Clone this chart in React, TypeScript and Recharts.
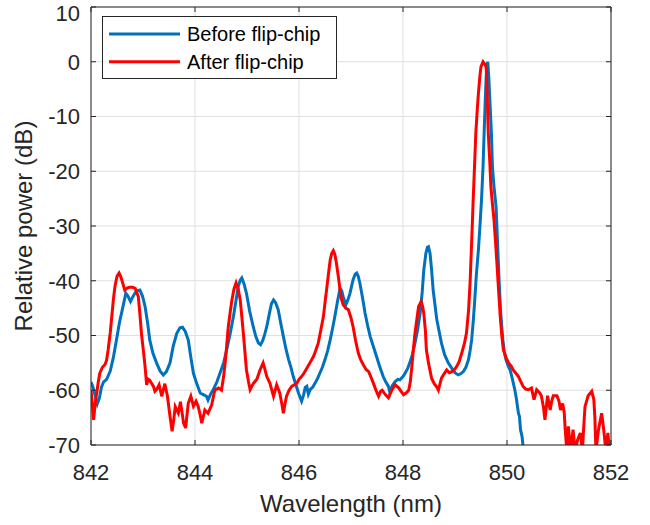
import React from 'react';
import { LineChart, Line, XAxis, YAxis, CartesianGrid } from 'recharts';

const FONT = '"Liberation Sans", Arial, Helvetica, sans-serif';

const seriesNames = ['Before flip-chip', 'After flip-chip'];
const seriesColors = ['#0072BD', '#FF0000'];
const xTicks = [842, 844, 846, 848, 850, 852];
const yTicks = [-70, -60, -50, -40, -30, -20, -10, 0, 10];
const xAxisTitle = 'Wavelength (nm)';
const yAxisTitle = 'Relative power (dB)';

const wavelengthBefore = [
  842.0, 842.04, 842.08, 842.12, 842.16, 842.2, 842.24, 842.3, 842.37, 842.43,
  842.49, 842.55, 842.62, 842.67, 842.71, 842.76, 842.8, 842.85, 842.9, 842.94,
  842.99, 843.04, 843.09, 843.13, 843.19, 843.26, 843.33, 843.39, 843.45, 843.52,
  843.58, 843.65, 843.71, 843.76, 843.81, 843.87, 843.92, 843.97, 844.03, 844.1,
  844.16, 844.22, 844.25, 844.3, 844.35, 844.42, 844.48, 844.55, 844.61, 844.68,
  844.74, 844.79, 844.83, 844.87, 844.9, 844.94, 844.99, 845.05, 845.12, 845.17,
  845.22, 845.26, 845.3, 845.34, 845.38, 845.43, 845.47, 845.51, 845.55, 845.6,
  845.65, 845.7, 845.75, 845.8, 845.85, 845.89, 845.94, 845.99, 846.05, 846.09,
  846.12, 846.15, 846.18, 846.22, 846.26, 846.31, 846.36, 846.4, 846.45, 846.5,
  846.55, 846.6, 846.65, 846.69, 846.74, 846.79, 846.82, 846.85, 846.9, 846.94,
  846.98, 847.04, 847.08, 847.11, 847.14, 847.17, 847.22, 847.27, 847.32, 847.37,
  847.43, 847.49, 847.55, 847.62, 847.67, 847.72, 847.75, 847.79, 847.85, 847.9,
  847.94, 848.0, 848.04, 848.09, 848.13, 848.18, 848.23, 848.28, 848.33, 848.37,
  848.4, 848.44, 848.47, 848.49, 848.52, 848.55, 848.58, 848.62, 848.65, 848.7,
  848.74, 848.8, 848.87, 848.94, 849.0, 849.06, 849.11, 849.16, 849.21, 849.26,
  849.29, 849.32, 849.35, 849.38, 849.41, 849.45, 849.48, 849.51, 849.54, 849.56,
  849.58, 849.6, 849.62, 849.63, 849.65, 849.67, 849.7, 849.72, 849.75, 849.79,
  849.82, 849.85, 849.88, 849.92, 849.95, 849.98, 850.02, 850.06, 850.1, 850.15,
  850.18, 850.22, 850.24, 850.26, 850.29, 850.31, 850.34,
];
const powerBefore = [
  -58.5, -59.5, -61.0, -62.5, -61.5, -59.5, -58.5, -58.0, -56.5, -54.0,
  -50.8, -47.5, -44.5, -42.3, -42.8, -43.8, -43.0, -42.2, -41.8, -41.7,
  -42.8, -44.7, -47.8, -50.8, -53.2, -55.0, -56.5, -57.2, -56.6, -55.0,
  -52.0, -49.6, -48.6, -48.5, -49.2, -50.8, -54.0, -56.9, -58.7, -60.5,
  -60.8, -61.1, -61.8, -60.7, -59.9, -58.5, -56.9, -55.0, -52.6, -49.5,
  -46.5, -43.5, -41.1, -39.9, -39.5, -40.5, -42.3, -45.5, -48.4, -50.2,
  -51.4, -51.7, -51.0, -49.8, -48.4, -46.0, -44.2, -43.5, -44.0, -45.3,
  -47.8, -50.2, -52.5, -54.4, -56.0, -57.5, -59.0, -60.5, -62.0, -60.8,
  -59.5, -59.3, -60.7, -59.8, -59.5, -58.7, -57.8, -56.9, -55.8, -54.4,
  -52.8, -50.8, -48.5, -46.5, -43.8, -41.4, -41.8, -42.9, -44.4, -43.5,
  -42.3, -39.8, -38.8, -38.6, -39.2, -40.4, -43.0, -45.9, -48.2, -50.2,
  -52.0, -53.8, -55.6, -57.5, -58.5, -59.3, -60.5, -59.2, -58.4, -58.0,
  -58.1, -57.5, -56.9, -56.0, -55.0, -53.5, -51.4, -49.0, -45.9, -42.0,
  -38.0, -35.0, -33.9, -33.8, -35.0, -38.0, -41.7, -44.8, -47.1, -49.5,
  -51.4, -53.5, -55.0, -56.0, -56.8, -57.2, -57.0, -56.6, -55.8, -54.4,
  -52.8, -50.8, -47.5, -43.5, -39.0, -34.4, -30.0, -25.2, -19.0, -13.1,
  -7.5, -2.7, -0.5, 0.0, -2.8, -7.0, -13.0, -19.2, -22.8, -26.5,
  -33.5, -40.4, -46.0, -50.8, -53.0, -54.4, -55.5, -56.3, -57.8, -59.9,
  -61.5, -64.2, -64.8, -67.2, -68.5, -70.3, -74.0,
];

const wavelengthAfter = [
  842.0, 842.03, 842.05, 842.08, 842.11, 842.14, 842.17, 842.22, 842.27, 842.3,
  842.33, 842.37, 842.4, 842.43, 842.46, 842.5, 842.54, 842.57, 842.6, 842.65,
  842.7, 842.74, 842.8, 842.85, 842.91, 842.94, 842.97, 843.01, 843.04, 843.07,
  843.1, 843.13, 843.17, 843.2, 843.23, 843.26, 843.31, 843.36, 843.42, 843.47,
  843.52, 843.56, 843.59, 843.62, 843.68, 843.72, 843.75, 843.78, 843.82, 843.87,
  843.92, 843.97, 844.02, 844.06, 844.1, 844.13, 844.19, 844.25, 844.32, 844.38,
  844.45, 844.51, 844.55, 844.58, 844.61, 844.64, 844.68, 844.71, 844.75, 844.79,
  844.83, 844.87, 844.9, 844.93, 844.96, 844.99, 845.03, 845.06, 845.12, 845.19,
  845.25, 845.31, 845.34, 845.38, 845.44, 845.51, 845.57, 845.63, 845.67, 845.7,
  845.73, 845.76, 845.81, 845.86, 845.91, 845.96, 846.0, 846.05, 846.1, 846.15,
  846.21, 846.28, 846.32, 846.37, 846.42, 846.47, 846.5, 846.53, 846.57, 846.6,
  846.63, 846.66, 846.69, 846.72, 846.76, 846.79, 846.82, 846.85, 846.9, 846.95,
  847.0, 847.04, 847.09, 847.14, 847.19, 847.24, 847.29, 847.34, 847.38, 847.43,
  847.48, 847.53, 847.57, 847.6, 847.66, 847.72, 847.76, 847.79, 847.85, 847.92,
  847.97, 848.01, 848.06, 848.11, 848.14, 848.17, 848.2, 848.23, 848.27, 848.3,
  848.35, 848.38, 848.4, 848.43, 848.45, 848.49, 848.55, 848.6, 848.65, 848.68,
  848.74, 848.79, 848.84, 848.89, 848.94, 848.99, 849.03, 849.08, 849.13, 849.18,
  849.22, 849.26, 849.29, 849.32, 849.35, 849.38, 849.4, 849.43, 849.45, 849.48,
  849.5, 849.54, 849.57, 849.6, 849.62, 849.64, 849.67, 849.69, 849.72, 849.75,
  849.78, 849.81, 849.84, 849.87, 849.9, 849.93, 849.98, 850.03, 850.08, 850.12,
  850.17, 850.22, 850.27, 850.31, 850.36, 850.41, 850.47, 850.52, 850.57, 850.63,
  850.66, 850.7, 850.73, 850.78, 850.83, 850.86, 850.89, 850.96, 851.0, 851.03,
  851.07, 851.1, 851.12, 851.15, 851.18, 851.21, 851.23, 851.27, 851.31, 851.36,
  851.41, 851.45, 851.48, 851.5, 851.56, 851.63, 851.67, 851.69, 851.71, 851.76,
  851.82, 851.86, 851.9, 851.94, 851.97, 852.0,
];
const powerAfter = [
  -60.0, -63.0, -65.4, -62.5, -60.5, -58.5, -56.9, -55.8, -55.3, -54.5,
  -52.6, -49.5, -46.5, -43.5, -41.1, -39.2, -38.6, -39.2, -40.1, -41.7,
  -41.3, -41.2, -41.2, -41.4, -42.9, -46.0, -49.6, -53.0, -55.7, -59.0,
  -58.0, -58.2, -58.8, -59.3, -60.2, -59.9, -59.0, -61.1, -58.8, -61.1,
  -64.8, -67.5, -65.5, -63.0, -64.2, -62.1, -64.0, -66.0, -66.9, -62.4,
  -61.1, -62.9, -62.0, -62.9, -64.5, -66.0, -63.6, -64.2, -62.7, -60.0,
  -59.6, -60.0, -57.5, -55.0, -51.8, -48.4, -45.5, -43.5, -41.5, -40.4,
  -41.5, -43.5, -46.5, -49.6, -53.0, -56.3, -58.5, -59.9, -58.8, -58.0,
  -56.3, -55.0, -56.0, -57.5, -58.7, -61.1, -59.0, -60.5, -62.5, -64.2,
  -62.5, -61.1, -60.0, -59.3, -59.0, -58.7, -58.0, -57.5, -56.8, -56.0,
  -55.0, -53.8, -52.8, -51.4, -49.0, -46.5, -44.0, -41.7, -38.5, -36.2,
  -35.0, -34.5, -35.2, -36.8, -39.5, -41.7, -43.5, -44.4, -45.0, -45.3,
  -46.8, -48.4, -51.0, -53.2, -54.5, -55.4, -56.2, -56.6, -57.5, -58.7,
  -60.0, -61.1, -60.2, -60.0, -60.8, -61.4, -60.5, -59.9, -59.0, -59.6,
  -60.3, -60.8, -60.5, -60.0, -58.5, -55.7, -52.5, -49.6, -46.8, -44.7,
  -43.8, -44.8, -46.0, -49.0, -52.6, -55.0, -57.8, -58.8, -59.4, -60.0,
  -57.8, -57.0, -56.3, -56.8, -56.6, -56.2, -55.7, -54.8, -53.2, -51.5,
  -49.6, -45.5, -40.4, -33.0, -25.2, -18.0, -13.1, -8.5, -5.8, -2.5,
  -0.9, 0.0, -0.4, -1.0, -6.5, -13.1, -18.5, -22.8, -26.0, -28.9,
  -33.0, -37.4, -42.0, -46.5, -50.0, -52.6, -54.0, -55.0, -55.6, -56.3,
  -56.9, -57.5, -58.5, -59.3, -59.8, -59.9, -59.6, -61.7, -59.9, -60.5,
  -61.0, -63.0, -65.4, -61.0, -63.6, -62.0, -61.0, -61.0, -62.0, -63.6,
  -62.4, -64.0, -67.2, -71.0, -66.6, -69.5, -71.0, -67.2, -71.0, -69.0,
  -67.8, -71.0, -66.0, -63.0, -61.0, -60.2, -61.7, -65.0, -71.0, -67.2,
  -64.2, -67.2, -71.0, -67.8, -71.0, -71.0,
];

const beforeData = wavelengthBefore.map((x, i) => ({ x, y: powerBefore[i] }));
const afterData = wavelengthAfter.map((x, i) => ({ x, y: powerAfter[i] }));

const AXIS_COLOR = '#262626';

const XTitle = (props: any) => {
  const vb = props.viewBox || {};
  return (
    <text
      x={vb.x + vb.width / 2}
      y={vb.y + 67}
      textAnchor="middle"
      fontSize={24}
      fill={AXIS_COLOR}
      fontFamily={FONT}
    >
      {xAxisTitle}
    </text>
  );
};

const YTitle = (props: any) => {
  const vb = props.viewBox || {};
  const cx = 32;
  const cy = vb.y + vb.height / 2;
  return (
    <text
      x={cx}
      y={cy}
      textAnchor="middle"
      fontSize={24}
      fill={AXIS_COLOR}
      fontFamily={FONT}
      transform={`rotate(-90, ${cx}, ${cy})`}
    >
      {yAxisTitle}
    </text>
  );
};

const LegendBox = () => (
  <svg
    width={237}
    height={65}
    style={{ position: 'absolute', left: 101, top: 15 }}
  >
    <rect x={1.5} y={1.5} width={234} height={62} fill="#fff" stroke={AXIS_COLOR} strokeWidth={1} />
    {seriesNames.map((name, i) => (
      <g key={name}>
        <line
          x1={8}
          x2={79}
          y1={19 + i * 27.7}
          y2={19 + i * 27.7}
          stroke={seriesColors[i]}
          strokeWidth={3}
        />
        <text
          x={86}
          y={19 + i * 27.7}
          dominantBaseline="central"
          fontSize={20}
          fontFamily={FONT}
          fill="#000"
        >
          {name}
        </text>
      </g>
    ))}
  </svg>
);

export default function App() {
  return (
    <div
      style={{
        position: 'absolute',
        left: 0,
        top: 0,
        width: 650,
        height: 525,
        background: '#fff',
        fontFamily: FONT,
      }}
    >
      <LineChart width={650} height={525} margin={{ top: 6, right: 38, bottom: 20, left: 31 }}>
        <CartesianGrid xAxisId="bottom" yAxisId="left" stroke="#dfdfdf" strokeWidth={1} />
        <XAxis
          xAxisId="bottom"
          dataKey="x"
          type="number"
          orientation="bottom"
          domain={[842, 852]}
          ticks={xTicks}
          allowDataOverflow
          height={60}
          tickSize={-5}
          tickMargin={24}
          stroke={AXIS_COLOR}
          tick={{ fill: AXIS_COLOR, fontSize: 22, fontFamily: FONT }}
          label={{ content: XTitle }}
        />
        <XAxis
          xAxisId="top"
          dataKey="x"
          type="number"
          orientation="top"
          domain={[842, 852]}
          ticks={xTicks}
          allowDataOverflow
          height={1}
          tickSize={-5}
          tickFormatter={() => ''}
          stroke={AXIS_COLOR}
        />
        <YAxis
          yAxisId="left"
          type="number"
          domain={[-70, 10]}
          ticks={yTicks}
          allowDataOverflow
          width={60}
          tickSize={-5}
          tickMargin={16}
          stroke={AXIS_COLOR}
          tick={{ fill: AXIS_COLOR, fontSize: 22, fontFamily: FONT }}
          label={{ content: YTitle }}
        />
        <YAxis
          yAxisId="right"
          orientation="right"
          type="number"
          domain={[-70, 10]}
          ticks={yTicks}
          allowDataOverflow
          width={1}
          tickSize={-5}
          tickFormatter={() => ''}
          stroke={AXIS_COLOR}
        />
        <Line
          xAxisId="bottom"
          yAxisId="left"
          data={beforeData}
          dataKey="y"
          name={seriesNames[0]}
          type="linear"
          stroke={seriesColors[0]}
          strokeWidth={3}
          dot={false}
          activeDot={false}
          isAnimationActive={false}
        />
        <Line
          xAxisId="bottom"
          yAxisId="left"
          data={afterData}
          dataKey="y"
          name={seriesNames[1]}
          type="linear"
          stroke={seriesColors[1]}
          strokeWidth={3}
          dot={false}
          activeDot={false}
          isAnimationActive={false}
        />
      </LineChart>
      <LegendBox />
    </div>
  );
}
